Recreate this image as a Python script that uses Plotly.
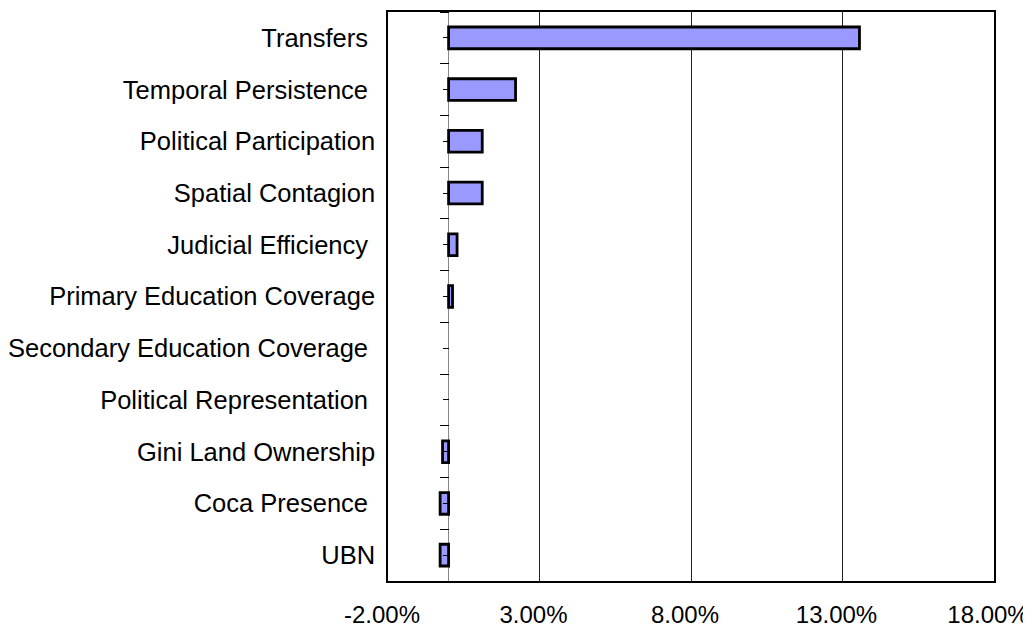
import plotly.graph_objects as go

categories = [
    "Transfers ",
    "Temporal Persistence ",
    "Political Participation",
    "Spatial Contagion",
    "Judicial Efficiency ",
    "Primary Education Coverage",
    "Secondary Education Coverage ",
    "Political Representation ",
    "Gini Land Ownership",
    "Coca Presence ",
    "UBN",
]
values = [13.56, 2.21, 1.11, 1.11, 0.28, 0.13, 0.0, 0.0, -0.2, -0.28, -0.28]
x_ticks = [-2, 3, 8, 13, 18]
x_tick_labels = ["-2.00%", "3.00%", "8.00%", "13.00%", "18.00%"]
x_range = [-2, 18]

fig = go.Figure()
fig.add_trace(go.Bar(
    x=values, y=categories, orientation="h",
    marker=dict(color="#9999FF",
                line=dict(color="black", width=[2.8 if v != 0 else 0 for v in values])),
    width=0.42,
))

zero_pos = (0 - x_range[0]) / (x_range[1] - x_range[0])
n = len(categories)

fig.update_layout(
    width=1023, height=620,
    margin=dict(l=380, r=37, t=4, b=47, autoexpand=False),
    paper_bgcolor="white", plot_bgcolor="white",
    showlegend=False,
    font=dict(family="Liberation Sans, Arial, sans-serif", color="black"),
    xaxis=dict(
        range=x_range, tickvals=x_ticks, ticktext=x_tick_labels,
        showgrid=True, gridcolor="#222", gridwidth=1,
        zeroline=True, zerolinecolor="#888", zerolinewidth=1,
        showline=True, mirror=True, linecolor="black", linewidth=1.5,
        ticks="", tickfont=dict(size=24), ticklabelstandoff=11, ticklabelshift=-6,
        automargin=False, ticklabeloverflow="allow",
    ),
    yaxis=dict(
        categoryorder="array", categoryarray=categories, autorange="reversed",
        showline=True, mirror=True, linecolor="black", linewidth=1.5,
        ticks="", showgrid=False, tickfont=dict(size=25.5), ticklabelstandoff=6,
        automargin=False,
    ),
    yaxis2=dict(
        overlaying="y", anchor="free", position=zero_pos, side="left",
        range=[n - 0.5, -0.5], showgrid=False, zeroline=False, showline=False,
        showticklabels=False, tickmode="linear", tick0=0, dtick=1,
        ticks="outside", ticklen=6, tickcolor="black", tickwidth=1,
        minor=dict(ticks="outside", ticklen=9, tick0=0.5, dtick=1,
                   tickcolor="black", tickwidth=1),
        automargin=False,
    ),
)
fig.add_trace(go.Scatter(x=[None], y=[None], yaxis="y2", showlegend=False, hoverinfo="skip"))

fig.write_html("out.html")
